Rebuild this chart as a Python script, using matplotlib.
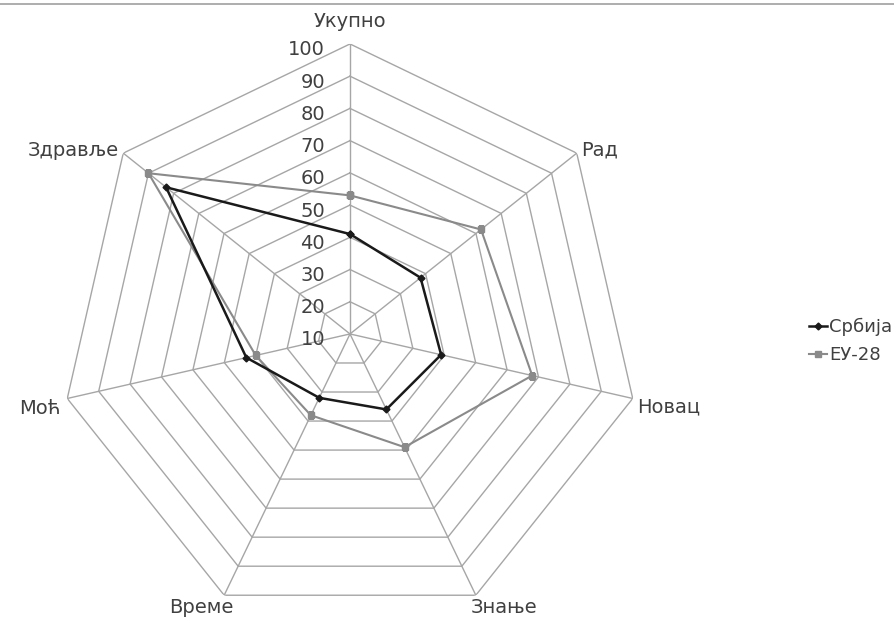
import numpy as np
import matplotlib.pyplot as plt
from matplotlib.lines import Line2D

plt.rcParams['font.family'] = ['DejaVu Sans']

# Подаци
categories = ["Укупно", "Рад", "Новац", "Знање", "Време", "Моћ", "Здравље"]
serbia = [41, 38, 39, 36, 32, 43, 83]
eu28 = [53, 62, 68, 49, 38, 40, 90]
series_names = ["Србија", "ЕУ-28"]
ring_values = [20, 30, 40, 50, 60, 70, 80, 90, 100]
tick_labels = ["10", "20", "30", "40", "50", "60", "70", "80", "90", "100"]

# Положај и изглед натписа категорија (ha, va, помак у тачкама)
label_style = [
    ("center", "bottom", (0, 9)),
    ("left", "center", (3, 2)),
    ("left", "center", (3, -6)),
    ("left", "top", (-4, -2)),
    ("right", "top", (7, -2)),
    ("right", "center", (-5, -7)),
    ("right", "center", (-3, 2)),
]

text_color = "#404040"
grid_color = "#a6a6a6"

n = len(categories)
angles = np.arange(n) * 2 * np.pi / n
closed = np.append(angles, angles[0])

fig = plt.figure(figsize=(8.94, 6.19), dpi=100)
ax = fig.add_axes([0.0671, -0.008, 0.6488, 0.937], projection="polar")
ax.set_theta_zero_location("N")
ax.set_theta_direction(-1)
ax.set_ylim(10, 100)
ax.grid(False)
ax.spines["polar"].set_visible(False)
ax.set_xticks([])
ax.set_yticks([])
ax.patch.set_visible(False)

# Мрежа у облику седмоугла
for r in ring_values:
    ax.plot(closed, [r] * (n + 1), color=grid_color, lw=1.0, zorder=1)
for a in angles:
    ax.plot([a, a], [10, 100], color=grid_color, lw=1.0, zorder=1)

# Натписи скале
for v, t in zip([10] + ring_values, tick_labels):
    ax.annotate(t, xy=(0, v), xytext=(-18, -4.3), textcoords="offset points",
                ha="right", va="center", fontsize=14, color=text_color)

# Натписи категорија
for a, name, (ha, va, off) in zip(angles, categories, label_style):
    ax.annotate(name, xy=(a, 100), xytext=off, textcoords="offset points",
                ha=ha, va=va, fontsize=14, color=text_color)

# Серије
ax.plot(closed, serbia + serbia[:1], color="#1a1a1a", lw=1.8,
        marker="D", markersize=3.5, label=series_names[0], zorder=4)
ax.plot(closed, eu28 + eu28[:1], color="#8a8a8a", lw=1.5,
        marker="s", markersize=4.5, label=series_names[1], zorder=3)

fig.legend(loc="center left", bbox_to_anchor=(0.897, 0.449), frameon=False,
           fontsize=13, handlelength=1.0, handletextpad=0.1,
           labelspacing=0.55, labelcolor=text_color, borderaxespad=0)

fig.add_artist(Line2D([0, 1], [1 - 4 / 619] * 2, transform=fig.transFigure,
                      color="#a0a0a0", lw=1.2))

fig.savefig("out.png", dpi=100)
